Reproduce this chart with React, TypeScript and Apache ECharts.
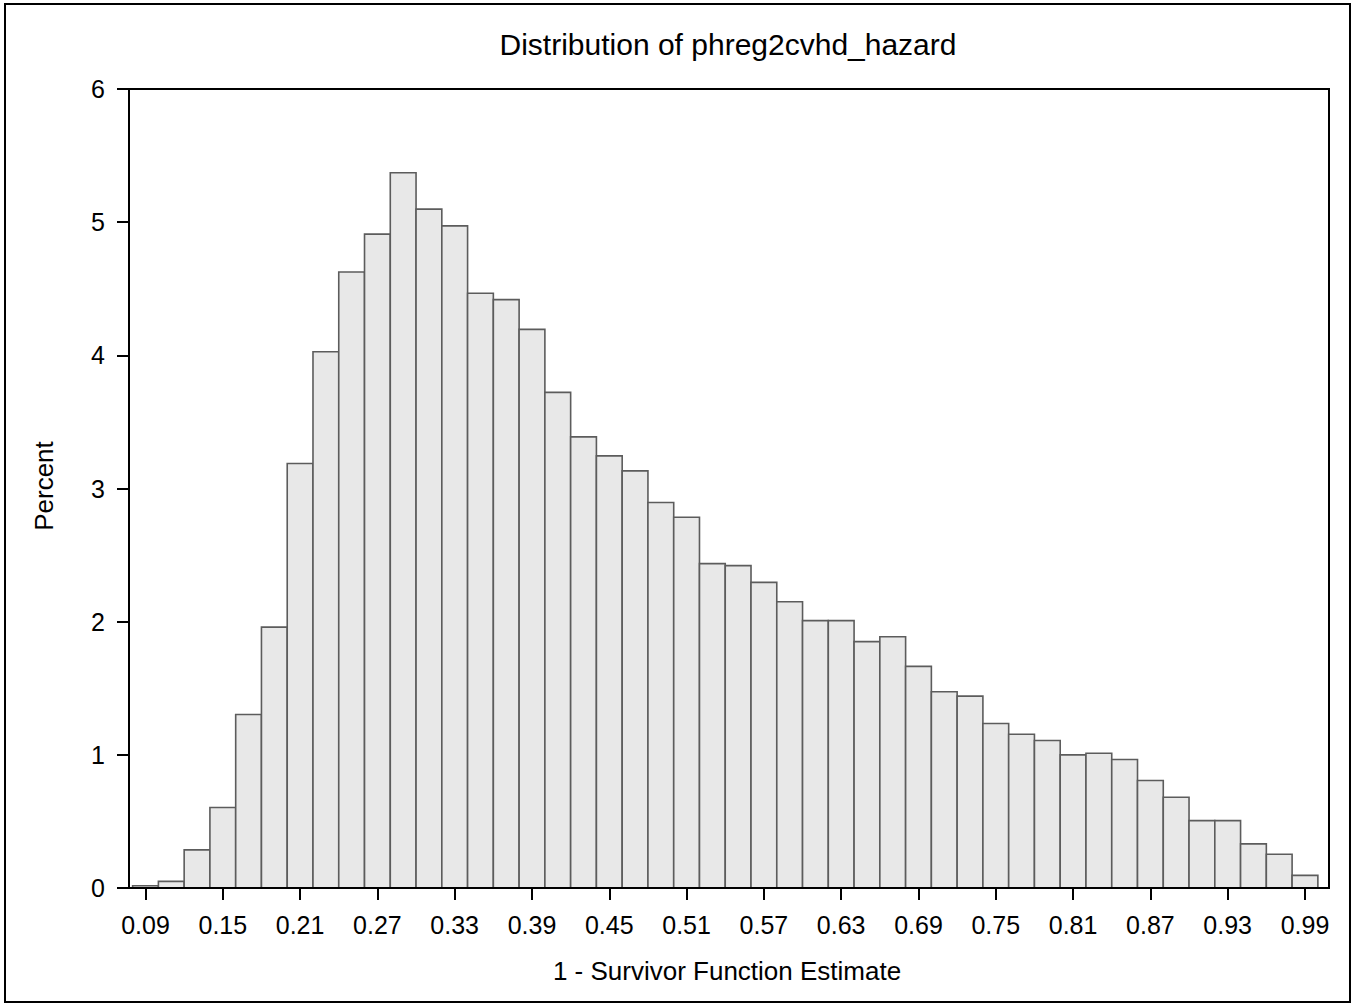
import React, { useEffect, useRef } from "react";
import * as echarts from "echarts";

const titleText = "Distribution of phreg2cvhd_hazard";
const xAxisTitle = "1 - Survivor Function Estimate";
const yAxisTitle = "Percent";

const binCenters = [
  0.09, 0.11, 0.13, 0.15, 0.17, 0.19, 0.21, 0.23, 0.25, 0.27,
  0.29, 0.31, 0.33, 0.35, 0.37, 0.39, 0.41, 0.43, 0.45, 0.47,
  0.49, 0.51, 0.53, 0.55, 0.57, 0.59, 0.61, 0.63, 0.65, 0.67,
  0.69, 0.71, 0.73, 0.75, 0.77, 0.79, 0.81, 0.83, 0.85, 0.87,
  0.89, 0.91, 0.93, 0.95, 0.97, 0.99,
];

const percents = [
  0.017, 0.05, 0.286, 0.604, 1.303, 1.959, 3.188, 4.027, 4.626, 4.91,
  5.371, 5.098, 4.972, 4.466, 4.418, 4.195, 3.722, 3.388, 3.245, 3.132,
  2.895, 2.784, 2.436, 2.421, 2.295, 2.15, 2.008, 2.008, 1.85, 1.887,
  1.664, 1.474, 1.441, 1.235, 1.155, 1.108, 1.0, 1.012, 0.965, 0.807,
  0.681, 0.506, 0.506, 0.331, 0.253, 0.095,
];

const xTickLabels = [
  "0.09", "0.15", "0.21", "0.27", "0.33", "0.39", "0.45", "0.51",
  "0.57", "0.63", "0.69", "0.75", "0.81", "0.87", "0.93", "0.99",
];

const yTickLabels = ["0", "1", "2", "3", "4", "5", "6"];

const BIN_WIDTH = 0.02;
const FONT = "'Liberation Sans', Arial, sans-serif";

export default function App() {
  const ref = useRef<HTMLDivElement>(null);

  useEffect(() => {
    if (!ref.current) return;
    const chart = echarts.init(ref.current, undefined, { renderer: "svg" });
    const xTicks = xTickLabels.map((s) => parseFloat(s));
    const data = binCenters.map((c, i) => [c, percents[i]]);

    chart.setOption({
      animation: false,
      backgroundColor: "#ffffff",
      grid: {
        left: 129,
        top: 89,
        right: 25,
        bottom: 119,
        show: true,
        borderColor: "#000",
        borderWidth: 2,
        backgroundColor: "transparent",
      },
      graphic: [
        {
          type: "rect",
          shape: { x: 5, y: 4, width: 1345, height: 998 },
          style: { fill: "none", stroke: "#000", lineWidth: 2 },
          silent: true,
          z: 100,
        },
        {
          type: "text",
          x: 728,
          y: 44,
          style: {
            text: titleText,
            align: "center",
            verticalAlign: "middle",
            font: `30px ${FONT}`,
            fill: "#000",
          },
        },
        {
          type: "text",
          x: 727,
          y: 971,
          style: {
            text: xAxisTitle,
            align: "center",
            verticalAlign: "middle",
            font: `26px ${FONT}`,
            fill: "#000",
          },
        },
        {
          type: "text",
          x: 44,
          y: 486,
          rotation: Math.PI / 2,
          style: {
            text: yAxisTitle,
            align: "center",
            verticalAlign: "middle",
            font: `26px ${FONT}`,
            fill: "#000",
          },
        },
      ],
      xAxis: {
        type: "value",
        min: 0.07719,
        max: 1.00864,
        z: 5,
        splitLine: { show: false },
        axisLine: { show: true, onZero: false, lineStyle: { color: "#000", width: 2 } },
        axisTick: {
          show: true,
          length: 12,
          inside: false,
          customValues: xTicks,
          lineStyle: { color: "#000", width: 2 },
        },
        axisLabel: {
          customValues: xTicks,
          formatter: (v: number) => v.toFixed(2),
          fontFamily: FONT,
          fontSize: 25,
          color: "#000",
          margin: 24,
        },
      },
      yAxis: {
        type: "value",
        min: 0,
        max: 6,
        interval: 1,
        z: 5,
        splitLine: { show: false },
        axisLine: { show: true, lineStyle: { color: "#000", width: 2 } },
        axisTick: { show: true, length: 12, lineStyle: { color: "#000", width: 2 } },
        axisLabel: {
          formatter: (v: number) => yTickLabels[Math.round(v)] ?? String(v),
          fontFamily: FONT,
          fontSize: 25,
          color: "#000",
          margin: 24,
        },
      },
      series: [
        {
          type: "custom",
          data,
          z: 2,
          renderItem: (params: any, api: any) => {
            const c = api.value(0);
            const v = api.value(1);
            const p0 = api.coord([c - BIN_WIDTH / 2, v]);
            const p1 = api.coord([c + BIN_WIDTH / 2, 0]);
            return {
              type: "rect",
              shape: { x: p0[0], y: p0[1], width: p1[0] - p0[0], height: p1[1] - p0[1] },
              style: { fill: "#e8e8e8", stroke: "#5c5c5c", lineWidth: 1.6 },
            };
          },
        },
      ],
    });

    return () => chart.dispose();
  }, []);

  return (
    <div
      ref={ref}
      style={{ position: "absolute", left: 0, top: 0, width: 1354, height: 1007, background: "#fff" }}
    />
  );
}
